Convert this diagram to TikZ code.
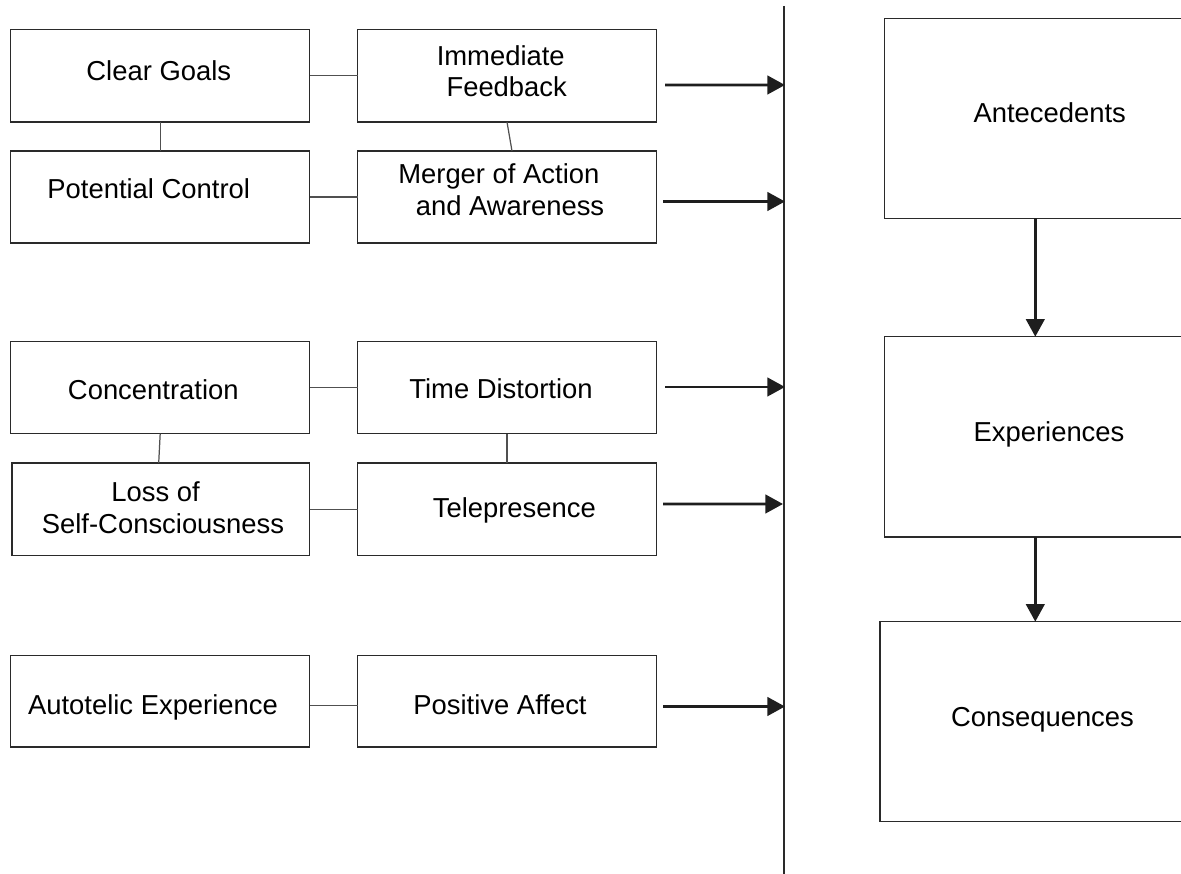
\documentclass[tikz,border=0pt]{standalone}
\usepackage{fontspec}
\setmainfont{Liberation Sans}
\usetikzlibrary{arrows.meta}
\definecolor{boxline}{HTML}{2A2A2A}
\definecolor{connline}{HTML}{505050}
\definecolor{arrline}{HTML}{1E1E1E}
\begin{document}
\begin{tikzpicture}[x=0.02cm, y=-0.02cm,
  box/.style={draw=boxline, line width=0.75pt, inner sep=0pt, outer sep=0pt, anchor=north west},
  sz/.style 2 args={minimum width=#1*0.02cm, minimum height=#2*0.02cm},
  txt/.style={font=\fontsize{15.6}{17.9}\selectfont, align=center, inner sep=0pt, text=black},
  conn/.style={draw=connline, line width=0.7pt},
  arr/.style={draw=arrline, line width=1.6pt, -{Triangle[length=10pt,width=10.5pt]}},
  vline/.style={draw=boxline, line width=0.8pt}]
\useasboundingbox (0,0) rectangle (1181,874);
\clip (0,0) rectangle (1181,874);

% left column boxes
\node[box, sz={299}{92.3}, label={[txt,shift={(-1.4,-5.3)}]center:Clear Goals}] (cg) at (10.7,29.7) {};
\node[box, sz={298.6}{92.3}, label={[txt,shift={(-0.3,-4.85)}]center:Immediate\hspace*{6.8pt}\\Feedback}] (imf) at (357.7,29.7) {};
\node[box, sz={299}{92}, label={[txt,shift={(-11.5,-8)}]center:Potential Control}] (pc) at (10.7,151) {};
\node[box, sz={298.6}{92}, label={[txt,shift={(3,-7.3)}]center:Merger of Action\hspace*{12.7pt}\\and Awareness}] (mer) at (357.7,151) {};

\node[box, sz={299}{92.4}, label={[txt,shift={(-6.9,1.8)}]center:Concentration}] (conc) at (10.7,341.3) {};
\node[box, sz={298.6}{92.4}, label={[txt,shift={(-6,1.5)}]center:Time Distortion}] (time) at (357.7,341.3) {};
\node[box, sz={297.7}{92.3}, label={[txt,shift={(2.15,-1.6)}]center:Loss of\hspace*{8.5pt}\\Self-Consciousness}] (loss) at (12,463) {};
\node[box, sz={298.6}{92.3}, label={[txt,shift={(7.3,1.7)}]center:Telepresence}] (tele) at (357.7,463) {};

\node[box, sz={299}{91.3}, label={[txt,shift={(-7.2,6)}]center:Autotelic Experience}] (auto) at (10.7,655.7) {};
\node[box, sz={298.6}{91.3}, label={[txt,shift={(-7,3.2)}]center:Positive Affect}] (pos) at (357.7,655.7) {};

% right column boxes
\node[box, sz={330}{200}, label={[txt,shift={(0,-5.3)}]center:Antecedents}] (ant) at (884.7,18.3) {};
\node[box, sz={330}{200.4}, label={[txt,shift={(-0.7,-2)}]center:Experiences}] (exp) at (884.7,336.7) {};
\node[box, sz={330}{199.5}, label={[txt,shift={(-2.5,-1.6)}]center:Consequences}] (con) at (880,621.7) {};

% divider line and arrow ends
\coordinate (vtop) at (784,6);
\coordinate (vbot) at (784,880);
\draw[vline] (vtop) -- (vbot);
\coordinate (e1) at (785,85);
\coordinate (e2) at (785,201.5);
\coordinate (e3) at (785,387);
\coordinate (e4) at (783,504);
\coordinate (e5) at (785,706.5);
\coordinate (ax) at (1035.3,0);

% connectors between boxes
\draw[conn] (cg.east) -- (imf.west);
\draw[conn] (cg.south) -- (pc.north);
\draw[conn] (imf.south) -- ([shift={(5,0)}]mer.north);
\draw[conn] (pc.east) -- (mer.west);
\draw[conn] (conc.east) -- (time.west);
\draw[conn] (conc.south) -- ([shift={(-2.15,0)}]loss.north);
\draw[conn] (time.south) -- (tele.north);
\draw[conn] (loss.east) -- (tele.west);
\draw[conn] ([shift={(0,4.4)}]auto.east) -- ([shift={(0,4.4)}]pos.west);

% arrows to the divider
\draw[arr] ([shift={(8.7,9.15)}]imf.east) -- (e1);
\draw[arr] ([shift={(6.7,4.5)}]mer.east) -- (e2);
\draw[arr] ([shift={(8.7,-0.5)}]time.east) -- (e3);
\draw[arr] ([shift={(6.7,-5.15)}]tele.east) -- (e4);
\draw[arr] ([shift={(6.7,5.15)}]pos.east) -- (e5);

% arrows between right boxes
\draw[arr] (ant.south -| ax) -- (exp.north -| ax);
\draw[arr] (exp.south -| ax) -- (con.north -| ax);
\end{tikzpicture}
\end{document}
